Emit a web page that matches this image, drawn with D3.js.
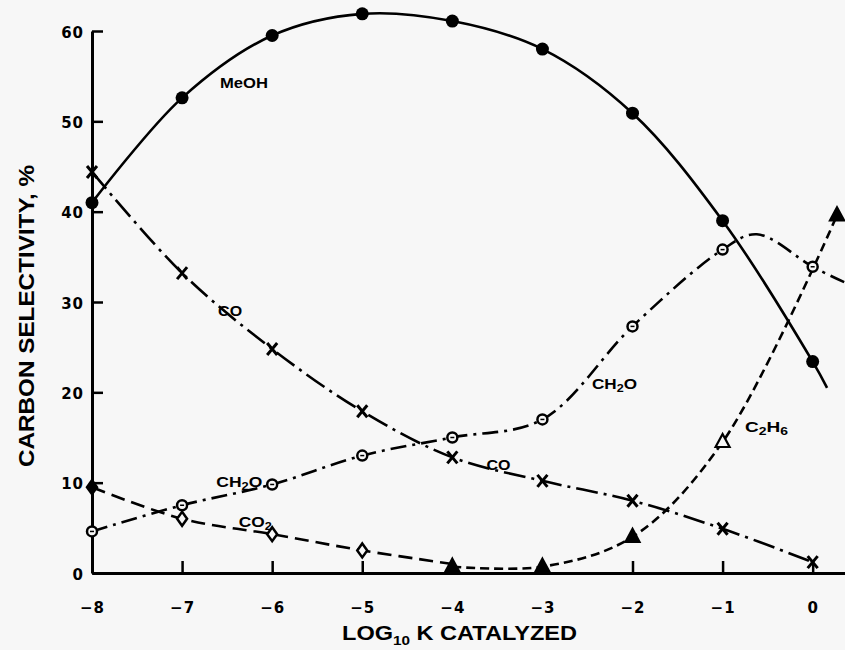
<!DOCTYPE html>
<html>
<head>
<meta charset="utf-8">
<script src="https://cdn.jsdelivr.net/npm/d3@7"></script>
<style>
body { margin: 0; background: #f7f7f7; }
svg { display: block; }
text { font-family: "Liberation Sans", Arial, sans-serif; font-weight: bold; fill: #000; }
</style>
</head>
<body>
<svg id="chart" width="845" height="650"></svg>
<script>
// values
var logK = [-8, -7, -6, -5, -4, -3, -2, -1, 0];
var meoh = [41, 52.6, 59.5, 61.9, 61.1, 58, 50.9, 39, 23.4];
var co = [44.4, 33.2, 24.8, 17.9, 12.8, 10.2, 8, 4.9, 1.2];
var ch2o = [4.6, 7.5, 9.8, 13, 15, 17, 27.3, 35.8, 33.9];
var co2X = [-8, -7, -6, -5, -4];
var co2 = [9.5, 6, 4.3, 2.5, 1.0];
var c2h6X = [-4, -3, -2, -1, 0.27];
var c2h6 = [0.7, 0.7, 4, 14.5, 39.6];
var c2h6Open = [false, false, false, true, false];

// curve points seen past / between the markers (no symbol drawn)
var meohExtra = [[0.16, 20.5]];
var ch2oExtra = [[-0.62, 37.5], [0.35, 32.2]];

var yTicks = [0, 10, 20, 30, 40, 50, 60];
var xTicks = [-8, -7, -6, -5, -4, -3, -2, -1, 0];

var svg = d3.select("#chart");
var x = d3.scaleLinear().domain([-8, 0.37]).range([92, 846]);
var y = d3.scaleLinear().domain([0, 60]).range([573, 31]);

function pts(xs, ys, extra) {
    var out = [];
    for (let i = 0; i < xs.length; i++) out.push([xs[i], ys[i]]);
    if (extra) extra.forEach(function(p){ out.push(p); });
    out.sort(function(a, b){ return a[0] - b[0]; });
    return out;
}

var lineFunc = d3.line()
    .x(function(d){ return x(d[0]); })
    .y(function(d){ return y(d[1]); })
    .curve(d3.curveCatmullRom.alpha(0.5));

var series = [
    {data: pts(logK, meoh, meohExtra), dash: null},
    {data: pts(logK, co), dash: "22,6,3,6"},
    {data: pts(logK, ch2o, ch2oExtra), dash: "16,6,3,6"},
    {data: pts(co2X, co2), dash: "14,7"},
    {data: pts(c2h6X, c2h6), dash: "9,5"}
];

series.forEach(function(s){
    svg.append("path")
        .attr("d", lineFunc(s.data))
        .attr("fill", "none")
        .attr("stroke", "#000")
        .attr("stroke-width", 2.6)
        .attr("stroke-dasharray", s.dash);
});

// axes
var yAxis = d3.axisLeft(y).tickValues(yTicks).tickSizeInner(-11).tickSizeOuter(0).tickPadding(8);
var xAxis = d3.axisBottom(x).tickValues(xTicks).tickSizeInner(-12).tickSizeOuter(0).tickPadding(29)
    .tickFormat(d3.format("d"));

var gy = svg.append("g").attr("transform", "translate(" + x(-8) + ",0)").call(yAxis);
var gx = svg.append("g").attr("transform", "translate(0," + y(0) + ")").call(xAxis);

[gx, gy].forEach(function(g){
    g.select(".domain").attr("stroke", "#000").attr("stroke-width", 3);
    g.selectAll(".tick line").attr("stroke", "#000").attr("stroke-width", 2.5);
    g.selectAll(".tick text")
        .attr("fill", "#000")
        .style("font-size", "15px")
        .style("font-family", "'DejaVu Sans', sans-serif")
        .style("font-weight", "bold")
        .style("letter-spacing", "1px");
});
gy.selectAll(".tick text").attr("dy", "0.42em");

// markers
var g = svg.append("g");
logK.forEach(function(k, i){
    g.append("circle").attr("cx", x(k)).attr("cy", y(meoh[i])).attr("r", 6.5).attr("fill", "#000");
});
logK.forEach(function(k, i){
    var cx = x(k), cy = y(co[i]);
    g.append("path")
        .attr("d", "M" + (cx - 5) + "," + (cy - 6) + "L" + (cx + 5) + "," + (cy + 6) +
                   "M" + (cx + 5) + "," + (cy - 6) + "L" + (cx - 5) + "," + (cy + 6))
        .attr("stroke", "#000").attr("stroke-width", 3).attr("fill", "none");
});
logK.forEach(function(k, i){
    var cx = x(k), cy = y(ch2o[i]);
    g.append("circle").attr("cx", cx).attr("cy", cy).attr("r", 5)
        .attr("fill", "#f7f7f7").attr("stroke", "#000").attr("stroke-width", 2.5);
    g.append("line").attr("x1", cx - 2).attr("x2", cx + 2).attr("y1", cy).attr("y2", cy)
        .attr("stroke", "#000").attr("stroke-width", 1.5);
});
co2X.forEach(function(k, i){
    if (k === -4) return; // hidden under the C2H6 triangle
    var cx = x(k), cy = y(co2[i]);
    g.append("path")
        .attr("d", "M" + cx + "," + (cy - 7) + "L" + (cx + 5) + "," + cy + "L" + cx + "," + (cy + 7) + "L" + (cx - 5) + "," + cy + "Z")
        .attr("fill", k === -8 ? "#000" : "#f7f7f7").attr("stroke", "#000").attr("stroke-width", 2.5);
});
c2h6X.forEach(function(k, i){
    var cx = x(k), cy = y(c2h6[i]);
    g.append("path")
        .attr("d", "M" + cx + "," + (cy - 8) + "L" + (cx + 7) + "," + (cy + 5) + "L" + (cx - 7) + "," + (cy + 5) + "Z")
        .attr("fill", c2h6Open[i] ? "#f7f7f7" : "#000")
        .attr("stroke", "#000").attr("stroke-width", 2.2);
});

// curve labels
var labels = [
    {x: -6.58, y: 53.7, w: 48, parts: [["MeOH", 0]]},
    {x: -6.6, y: 28.5, w: 24, parts: [["CO", 0]]},
    {x: -3.62, y: 11.4, w: 24, parts: [["CO", 0]]},
    {x: -6.62, y: 9.5, w: 46, parts: [["CH", 0], ["2", 1], ["O", 0]]},
    {x: -6.37, y: 5.1, w: 33, parts: [["CO", 0], ["2", 1]]},
    {x: -2.45, y: 20.4, w: 45, parts: [["CH", 0], ["2", 1], ["O", 0]]},
    {x: -0.75, y: 15.6, w: 43, parts: [["C", 0], ["2", 1], ["H", 0], ["6", 1]]}
];
labels.forEach(function(l){
    var t = svg.append("text").attr("x", x(l.x)).attr("y", y(l.y)).style("font-size", "15px")
        .attr("textLength", l.w).attr("lengthAdjust", "spacingAndGlyphs");
    var prev = 0;
    l.parts.forEach(function(p){
        var shift = p[1] ? 3 : 0;
        t.append("tspan").text(p[0]).attr("dy", shift - prev).style("font-size", p[1] ? "11px" : "15px");
        prev = shift;
    });
});

// axis titles
var xt = svg.append("text").attr("x", 342).attr("y", 640).style("font-size", "20px")
    .attr("textLength", 235).attr("lengthAdjust", "spacingAndGlyphs");
xt.append("tspan").text("LOG");
xt.append("tspan").text("10").style("font-size", "13px").attr("dy", 5);
xt.append("tspan").text(" K CATALYZED").attr("dy", -5);

svg.append("text")
    .attr("transform", "translate(34,316) rotate(-90)")
    .attr("text-anchor", "middle")
    .style("font-size", "22px")
    .attr("textLength", 302).attr("lengthAdjust", "spacingAndGlyphs")
    .text("CARBON SELECTIVITY, %");
</script>
</body>
</html>
